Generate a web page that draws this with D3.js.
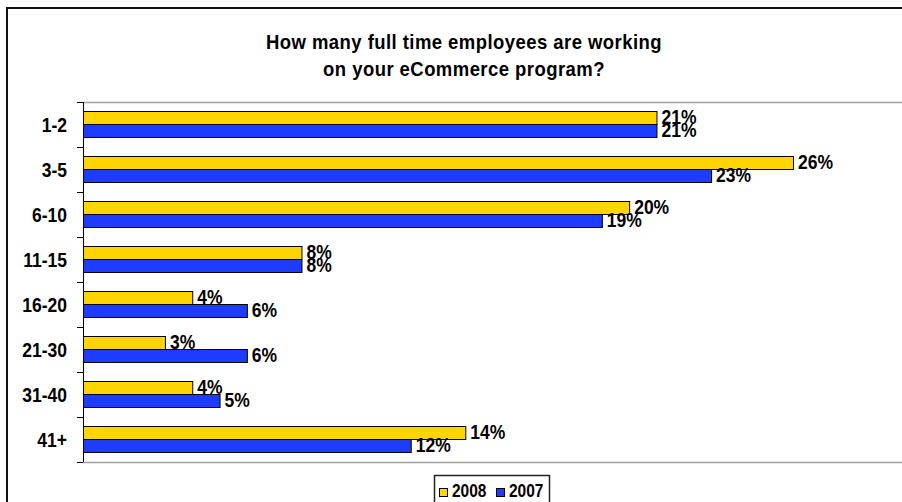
<!DOCTYPE html>
<html>
<head>
<meta charset="utf-8">
<script src="https://cdn.jsdelivr.net/npm/d3@7"></script>
<style>
  body { margin: 0; background: #fff; }
  svg text { font-family: "Liberation Sans", Arial, sans-serif; font-weight: bold; fill: #000; }
</style>
</head>
<body>
<div id="chart"></div>
<script>
//data
const categories = ["1-2", "3-5", "6-10", "11-15", "16-20", "21-30", "31-40", "41+"];
const series = ["2008", "2007"];
const values2008 = [21, 26, 20, 8, 4, 3, 4, 14];
const values2007 = [21, 23, 19, 8, 6, 6, 5, 12];
const seriesColors = {"2008": "#FFD400", "2007": "#1E3CFF"};
const titleLines = ["How many full time employees are working", "on your eCommerce program?"];

const W = 902, H = 502;
//plot area in page pixels
const plot = {left: 83, top: 102, bottom: 462};
const stretch = 1.13; //the original text is a bit taller than plain Arial

//text placed with a little vertical stretch
function tallText(sel, fx, fy) {
	return sel.attr("transform", function(d, i) {
		return "translate(" + fx(d, i) + "," + fy(d, i) + ") scale(1," + stretch + ")";
	});
}

const svg = d3.select("#chart").append("svg")
	.attr("width", W).attr("height", H);

//outer chart border (runs off the right and bottom of the picture)
svg.append("rect")
	.attr("x", 7).attr("y", 8)
	.attr("width", W + 20).attr("height", H + 20)
	.attr("fill", "none").attr("stroke", "#111").attr("stroke-width", 2);

//title
tallText(svg.selectAll(".title")
	.data(titleLines)
	.enter().append("text")
	.attr("class", "title")
	.attr("text-anchor", "middle")
	.style("font-size", "18.5px")
	.style("letter-spacing", "0.45px")
	.text(function(d) { return d; }),
	function() { return 464; },
	function(d, i) { return 49 + i * 26.5; });

//scales
const x = d3.scaleLinear().domain([0, 26]).range([plot.left, 793]);
const y = d3.scaleBand().domain(categories).range([plot.top, plot.bottom]);
const barH = 13;
const offset = 9; //space from band top to first bar

//plot area top/bottom grey lines
[plot.top, plot.bottom].forEach(function(yy) {
	svg.append("line")
		.attr("x1", plot.left).attr("x2", W)
		.attr("y1", yy + 0.5).attr("y2", yy + 0.5)
		.attr("stroke", "#a0a0a0").attr("stroke-width", 1.5);
});

//y axis with ticks between categories
svg.append("line")
	.attr("x1", plot.left + 0.5).attr("x2", plot.left + 0.5)
	.attr("y1", plot.top).attr("y2", plot.bottom)
	.attr("stroke", "#000");
const tickYs = categories.map(function(c) { return y(c); }).concat([plot.bottom]);
svg.selectAll(".ytick")
	.data(tickYs)
	.enter().append("line")
	.attr("x1", plot.left - 6).attr("x2", plot.left)
	.attr("y1", function(d) { return d + 0.5; }).attr("y2", function(d) { return d + 0.5; })
	.attr("stroke", "#000");

tallText(svg.selectAll(".catLabel")
	.data(categories)
	.enter().append("text")
	.attr("dy", "0.36em")
	.attr("text-anchor", "end")
	.style("font-size", "17.5px")
	.text(function(d) { return d; }),
	function() { return 67; },
	function(d) { return y(d) + y.bandwidth() / 2; });

//bars
const rows = [];
categories.forEach(function(c, i) {
	rows.push({cat: c, s: "2008", v: values2008[i], k: 0});
	rows.push({cat: c, s: "2007", v: values2007[i], k: 1});
});

svg.selectAll(".bar")
	.data(rows)
	.enter().append("rect")
	.attr("class", "bar")
	.attr("x", plot.left + 0.5)
	.attr("y", function(d) { return y(d.cat) + offset + d.k * barH + 0.5; })
	.attr("width", function(d) { return x(d.v) - plot.left; })
	.attr("height", barH)
	.attr("fill", function(d) { return seriesColors[d.s]; })
	.attr("stroke", "#000").attr("stroke-width", 1);

tallText(svg.selectAll(".valLabel")
	.data(rows)
	.enter().append("text")
	.style("font-size", "17.5px")
	.text(function(d) { return d.v + "%"; }),
	function(d) { return x(d.v) + 5; },
	function(d) { return y(d.cat) + offset + (d.k + 1) * barH - 0.5; });

//legend
const legend = svg.append("g");
legend.append("rect")
	.attr("x", 434.5).attr("y", 475.5)
	.attr("width", 115).attr("height", 40)
	.attr("fill", "#fff").attr("stroke", "#222").attr("stroke-width", 1.5);
const lx = d3.scalePoint().domain(series).range([439, 496]);
series.forEach(function(s) {
	legend.append("rect")
		.attr("x", lx(s) + 0.5).attr("y", 488.5)
		.attr("width", 8).attr("height", 8)
		.attr("fill", seriesColors[s]).attr("stroke", "#000");
	legend.append("text")
		.attr("transform", "translate(" + (lx(s) + 13) + ",496.5) scale(1," + stretch + ")")
		.style("font-size", "15.5px")
		.text(s);
});
</script>
</body>
</html>
